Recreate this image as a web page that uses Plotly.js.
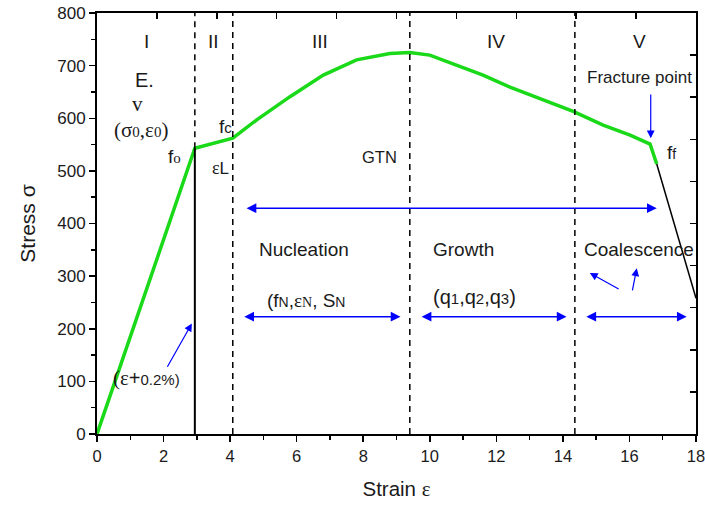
<!DOCTYPE html>
<html><head><meta charset="utf-8">
<script src="https://cdn.plot.ly/plotly-3.0.1.min.js"></script>
<style>body{margin:0;background:#fff}#c{width:705px;height:505px}</style>
</head><body><div id="c"></div>
<script>
// Green stress-strain curve (strain %, stress)
var curveX = [0, 2.94, 4.08, 4.80, 5.80, 6.80, 7.80, 8.80, 9.40, 10.0, 11.6, 12.41, 14.31, 15.21, 16.02, 16.62, 16.82];
var curveY = [0, 543, 562, 597, 641, 682, 711, 723, 725, 720, 682, 659, 613, 587, 568, 551, 513];
// Black post-fracture line
var fractureX = [16.82, 18.0];
var fractureY = [513, 258];
// Black 0.2% offset vertical line
var offsetX = [2.94, 2.94];
var offsetY = [0, 543];
// Region boundaries (dashed)
var boundX = [2.94, 4.08, 9.40, 14.36];
var boundBottom = [543, 0, 0, 0];
// Region labels
var regionNames = ['I', 'II', 'III', 'IV', 'V'];
var regionCentres = [1.5, 3.5, 6.7, 12.0, 16.3];
// Double-headed blue spans [x0, x1, y]
var spans = [[4.45, 16.82, 429], [4.38, 9.12, 223], [9.71, 14.11, 223], [14.66, 17.72, 223]];
// Single blue arrows [tailX, tailY, headX, headY]
var arrows = [[15.72, 274, 14.81, 306], [16.08, 270, 16.22, 315], [2.09, 125, 2.85, 210], [16.64, 648, 16.64, 562]];

var SANS = 'Liberation Sans, Arial, sans-serif';
var SERIF = 'Liberation Serif, Times New Roman, serif';
var txtCol = '#1a1a1a';

var traces = [
  {x: curveX, y: curveY, mode: 'lines', line: {color: '#19d919', width: 3.5}, hoverinfo: 'skip'},
  {x: fractureX, y: fractureY, mode: 'lines', line: {color: '#000', width: 1.5}, hoverinfo: 'skip'},
  {x: offsetX, y: offsetY, mode: 'lines', line: {color: '#000', width: 2}, hoverinfo: 'skip'},
  {x: [0], y: [0], xaxis: 'x2', yaxis: 'y2', mode: 'markers', marker: {opacity: 0}, hoverinfo: 'skip'}
];

var shapes = boundX.map(function (b, i) {
  return {type: 'line', xref: 'x', yref: 'y', x0: b, x1: b, y0: boundBottom[i], y1: 800,
    line: {color: '#000', width: 1.5, dash: '6px,5px'}};
});

function sm(t, sz, fam) {
  return '<span style="font-size:' + sz + 'px' + (fam ? ';font-family:' + fam : '') + '">' + t + '</span>';
}
function ann(x, y, text, size, family) {
  return {x: x, y: y, xref: 'x', yref: 'y', text: text, showarrow: false,
    font: {family: family || SANS, size: size, color: txtCol}};
}
var annotations = [];
regionNames.forEach(function (n, i) { annotations.push(ann(regionCentres[i], 745, n, 19)); });
annotations.push(ann(1.44, 673, 'E.', 20));
annotations.push(ann(1.23, 627, 'v', 21, SERIF));
annotations.push(ann(1.32, 578, '(σ' + sm('0', 15) + ',ε' + sm('0', 15) + ')', 21, SERIF));
annotations.push(ann(2.32, 527, 'f' + sm('o', 15, SERIF), 19));
annotations.push(ann(3.85, 585, 'f' + sm('c', 15), 19));
annotations.push(ann(3.72, 505, sm('ε', 18, SERIF) + 'L', 17));
annotations.push(ann(8.5, 526, 'GTN', 16.5));
annotations.push(ann(16.3, 677, 'Fracture point', 17));
annotations.push(ann(17.25, 534, 'f' + sm('f', 14), 19));
annotations.push(ann(6.22, 350, 'Nucleation', 19));
annotations.push(ann(6.28, 253, '(f' + sm('N', 14) + ',' + sm('ε' + sm('N', 14), 19, SERIF) + ', S' + sm('N', 14), 19));
annotations.push(ann(11.0, 350, 'Growth', 19));
annotations.push(ann(11.33, 260, '(q' + sm('1', 15) + ',q' + sm('2', 15) + ',q' + sm('3', 15) + ')', 20));
annotations.push(ann(16.3, 350, 'Coalescence', 19));
annotations.push(ann(1.5, 106, sm('(ε', 21, SERIF) + '+' + sm('0.2%)', 15), 20));

spans.forEach(function (s) {
  annotations.push({x: s[1], y: s[2], ax: s[0], ay: s[2], xref: 'x', yref: 'y', axref: 'x', ayref: 'y',
    text: '', showarrow: true, arrowhead: 2, startarrowhead: 2, arrowside: 'end+start',
    arrowsize: 1.3, startarrowsize: 1.3, arrowwidth: 1.5, arrowcolor: '#0000ff', standoff: 0, startstandoff: 0});
});
arrows.forEach(function (a) {
  annotations.push({x: a[2], y: a[3], ax: a[0], ay: a[1], xref: 'x', yref: 'y', axref: 'x', ayref: 'y',
    text: '', showarrow: true, arrowhead: 2, arrowsize: 1.3, arrowwidth: 1.2, arrowcolor: '#0000ff', standoff: 0});
});

var axCommon = {showgrid: false, zeroline: false, showline: true, linecolor: '#000', linewidth: 2,
  ticklen: 6, tickwidth: 1.5, tickcolor: '#000', tickmode: 'linear', tick0: 0};
var layout = {
  width: 705, height: 505,
  margin: {l: 97, r: 9, t: 13, b: 71},
  paper_bgcolor: '#fff', plot_bgcolor: '#fff',
  showlegend: false,
  font: {family: SANS, color: txtCol},
  xaxis: Object.assign({}, axCommon, {range: [0, 18], dtick: 2, ticks: 'outside', ticklabeloverflow: 'allow',
    minor: {dtick: 1, tick0: 0, ticks: 'outside', ticklen: 4, tickcolor: '#000', tickwidth: 1.5},
    tickfont: {size: 16.5, family: SANS, color: txtCol},
    title: {text: 'Strain ' + sm('ε', 21, SERIF), font: {size: 20.5, family: SANS, color: txtCol}, standoff: 18}}),
  yaxis: Object.assign({}, axCommon, {range: [0, 800], dtick: 100, ticks: 'outside',
    minor: {dtick: 50, tick0: 0, ticks: 'outside', ticklen: 4, tickcolor: '#000', tickwidth: 1.5},
    tickfont: {size: 17, family: SANS, color: txtCol},
    title: {text: 'Stress σ', font: {size: 21, family: SANS, color: txtCol}, standoff: 16}}),
  xaxis2: Object.assign({}, axCommon, {overlaying: 'x', side: 'top', anchor: 'y2', range: [0, 18], dtick: 1.8,
    ticks: 'inside', showticklabels: false}),
  yaxis2: Object.assign({}, axCommon, {overlaying: 'y', side: 'right', anchor: 'x2', range: [0, 800], dtick: 80,
    ticks: 'inside', showticklabels: false}),
  shapes: shapes,
  annotations: annotations
};
Plotly.newPlot('c', traces, layout, {displayModeBar: false, staticPlot: true});
</script></body></html>
